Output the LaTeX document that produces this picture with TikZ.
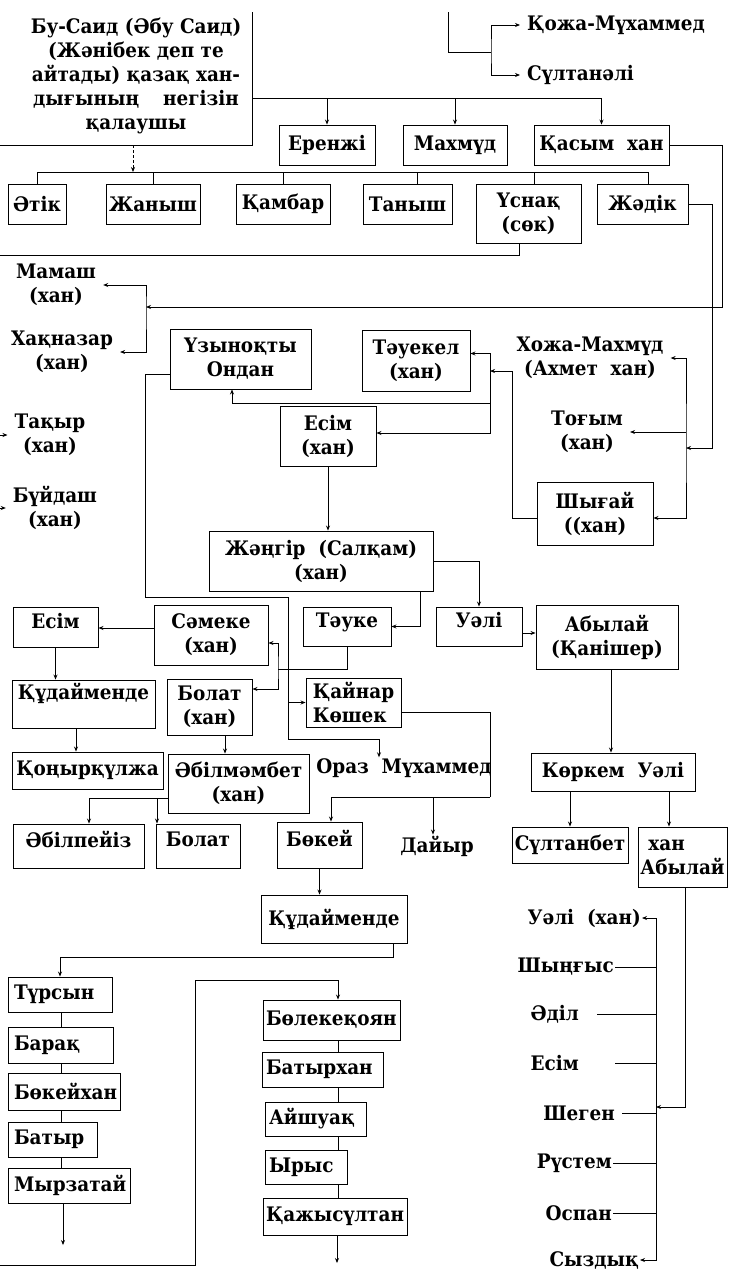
\documentclass[tikz,border=0pt]{standalone}
\usepackage{fontspec}
\setmainfont{DejaVu Serif}[FakeStretch=0.92]
\usetikzlibrary{arrows.meta}

\tikzset{
  txt/.style={font=\fontsize{20}{24}\selectfont\bfseries},
  box/.style={draw, line width=0.9pt, inner sep=2pt, align=center, txt},
  lbox/.style={box, align=left, inner xsep=6pt},
  high/.style={text depth=13pt},
  lbl/.style={inner sep=1pt, align=center, txt},
  tag/.style={lbl, inner xsep=7pt},
  link/.style={line width=0.8pt},
  >={Stealth[length=5pt,width=4pt]}
}

\begin{document}
\begin{tikzpicture}[x=1pt,y=-1pt]
\useasboundingbox (0,0) rectangle (729,1275);

% founder and the first generation
\node[lbl] (busaid) at (136,76) {Бу-Саид (Әбу Саид)\\(Жәнібек деп те\\айтады) қазақ хан-\\дығының\hspace{1.2em}негізін\\қалаушы};
\coordinate (bsl) at (0,145);
\coordinate (bsr) at (252,145);
\coordinate (bsc) at (252,12);
\draw[link] (bsl) -- (bsr) -- (bsc);

\node[tag,anchor=west] (kozha) at (520,25) {Қожа-Мүхаммед};
\node[tag,anchor=west] (sultanali) at (520,75) {Сүлтанәлі};
\coordinate (topin) at (448,12);
\coordinate (tv1) at (491,52);
\draw[link] (topin) |- (tv1);
\draw[link,<->] (kozha.west) -| (tv1) |- (sultanali.west);

\node[box, minimum width=96, minimum height=40] (erenzhi) at (327,145) {Еренжі};
\node[box, minimum width=104, minimum height=40] (makhmud) at (455,145) {Махмүд};
\node[box, minimum width=135, minimum height=40] (kasym) at (601.5,145) {Қасым~~хан};
\coordinate (r1) at (252,98);
\draw[link,->] (r1) -| (kasym.north);
\draw[link,->] (erenzhi.north |- r1) -- (erenzhi.north);
\draw[link,->] (makhmud.north |- r1) -- (makhmud.north);

% second row
\node[box, minimum width=58, minimum height=40] (atik) at (37,204) {Әтік};
\node[box, minimum width=94, minimum height=40] (zhanysh) at (153,204) {Жаныш};
\node[box, minimum width=94, minimum height=40] (kambar) at (283,204) {Қамбар};
\node[box, minimum width=89, minimum height=40] (tanysh) at (407.5,204) {Таныш};
\node[box, minimum width=105, minimum height=59] (usnak) at (528.5,213.5) {Үснақ\\(сөк)};
\node[box, minimum width=91, minimum height=40] (zhadik) at (642.5,204) {Жәдік};
\coordinate (r2) at (0,172);
\draw[link] (atik.north) |- ([xshift=5.5pt]zhadik.north |- r2) -- ([xshift=5.5pt]zhadik.north);
\draw[link] (zhanysh.north) -- (zhanysh.north |- r2);
\draw[link] (kambar.north) -- (kambar.north |- r2);
\draw[link] ([xshift=10pt]tanysh.north) -- ([xshift=10pt]tanysh.north |- r2);
\draw[link] ([xshift=5.5pt]usnak.north) -- ([xshift=5.5pt]usnak.north |- r2);
\draw[link,->,densely dashed] ([xshift=-3pt]busaid.south |- bsl) -- ([xshift=-3pt]busaid.south |- r2);

% sons of Kasym
\node[tag] (mamash) at (56,285) {Мамаш\\(хан)};
\node[tag] (khaknazar) at (62,352) {Хақназар\\(хан)};
\coordinate (qv) at (146,307);
\draw[link,->] (kasym.east) -- ++(53,0) |- (qv);
\draw[link,<->] (mamash.east) -| (qv) |- (khaknazar.east);

% sons of Usnak
\node[tag] (takyr) at (50,435) {Тақыр\\(хан)};
\node[tag] (buidash) at (55,508) {Бүйдаш\\(хан)};
\coordinate (ul) at (0,255);
\draw[link] ([xshift=-9.5pt]usnak.south) |- (ul);
\draw[link,->] (takyr.west -| ul) -- (takyr.west);
\draw[link,->] (buidash.west -| ul) -- (buidash.west);

% sons of Zhadik
\node[tag] (khozha) at (590,358) {Хожа-Махмүд\\(Ахмет~~хан)};
\node[tag] (togym) at (587,432) {Тоғым\\(хан)};
\node[box, minimum width=116, minimum height=63] (shygai) at (595,513.5) {Шығай\\((хан)};
\coordinate (jv) at (686,448);
\draw[link,->] (zhadik.east) -- ++(24,0) |- (jv);
\draw[link,<->] (khozha.east) -| (jv) |- ([yshift=-4.5pt]shygai.east);
\draw[link,->] (jv |- togym.east) -- (togym.east);

% sons of Shygai
\node[box, minimum width=141, minimum height=60] (uzyn) at (240.5,359) {Үзыноқты\\Ондан};
\node[box, minimum width=108, minimum height=61] (tauekel) at (416,360.5) {Тәуекел\\(хан)};
\node[box, minimum width=96, minimum height=60] (esim) at (328,436) {Есім\\(хан)};
\coordinate (sv) at (490,371);
\coordinate (uv) at (490,403);
\draw[link,->] ([yshift=-4.5pt]shygai.west) -- ++(-24,0) |- (sv);
\draw[link,->] (sv) |- ([yshift=7pt]tauekel.east);
\draw[link,->] (sv) |- ([yshift=3pt]esim.east);
\draw[link,->] (sv) -- (uv) -| ([xshift=-8.5pt]uzyn.south);

% Zhangir and his sons
\node[box, minimum width=224, minimum height=60] (zhangir) at (321,561) {Жәңгір~~(Салқам)\\(хан)};
\node[box, high, minimum width=86, minimum height=39] (uali) at (479,626.5) {Уәлі};
\node[box, minimum width=142, minimum height=64] (abylai) at (607,637) {Абылай\\(Қанішер)};
\node[box, high, minimum width=88, minimum height=39] (tauke) at (347,626.5) {Тәуке};
\draw[link,->] (esim.south) -- (esim.south |- zhangir.north);
\draw[link,->] (zhangir.east) -| (uali.north);
\draw[link,->] ([yshift=-6.5pt]uali.east) -- ([yshift=-6.5pt]uali.east -| abylai.west);
\draw[link,->] ([xshift=99pt]zhangir.south) |- (tauke.east);

% line of Ondan
\node[box, minimum width=95, minimum height=49, align=left] (kainar) at (353.5,702.5) {Қайнар\\Көшек};
\node[tag] (oraz) at (404,768) {Ораз~~Мүхаммед};
\coordinate (ov1) at (145,597);
\coordinate (ov2) at (288,739);
\draw[link,->] ([yshift=-15pt]uzyn.west) -| (ov1) -| (ov2) -| ([xshift=-25pt]oraz.north);
\draw[link,->] (ov2 |- kainar.west) -- (kainar.west);

% sons of Tauke
\node[box, minimum width=114, minimum height=60] (sameke) at (211,635) {Сәмеке\\(хан)};
\node[box, minimum width=85, minimum height=56] (bolat) at (209.5,707) {Болат\\(хан)};
\coordinate (tv) at (278,669);
\draw[link] (tauke.south) |- (tv);
\draw[link,<->] ([yshift=-8pt]sameke.east) -| (tv) |- ([yshift=18pt]bolat.east);

\node[box, high, minimum width=85, minimum height=40] (esimb) at (55.5,627) {Есім};
\node[box, minimum width=143, minimum height=48] (kudaia) at (83.5,704) {Құдайменде\\[-6pt]\strut};
\node[box, minimum width=151, minimum height=37] (konyr) at (87.5,770.5) {Қоңырқүлжа};
\draw[link,->] ([yshift=7pt]sameke.west) -- ([yshift=7pt]sameke.west -| esimb.east);
\draw[link,->] (esimb.south) -- (esimb.south |- kudaia.north);
\draw[link,->] ([xshift=-7.5pt]kudaia.south) -- ([xshift=-7.5pt]kudaia.south |- konyr.north);

\node[box, minimum width=141, minimum height=59] (abil) at (238.5,783.5) {Әбілмәмбет\\(хан)};
\node[box, high, minimum width=131, minimum height=44] (abilp) at (78.5,846) {Әбілпейіз};
\node[box, high, minimum width=84, minimum height=44] (bolatb) at (198,846) {Болат};
\coordinate (av) at (157,798);
\draw[link,->] ([xshift=15.5pt]bolat.south) -- ([xshift=15.5pt]bolat.south |- abil.north);
\draw[link,->] ([yshift=-14.5pt]abil.west) -| ([xshift=10.5pt]abilp.north);
\draw[link,->] (av) -- (av |- bolatb.north);

% sons of Kainar Koshek
\node[box, high, minimum width=85, minimum height=46] (bokei) at (319.5,845) {Бөкей};
\node[tag] (dayir) at (437,846) {Дайыр};
\coordinate (kv) at (490,797);
\draw[link] ([yshift=-9.5pt]kainar.east) -| (kv);
\draw[link,->] (kv) -| ([xshift=11.5pt]bokei.north);
\draw[link,->] ([xshift=-4pt]dayir.north |- kv) -- ([xshift=-4pt]dayir.north);

\node[box, minimum width=146, minimum height=48] (kudaib) at (334,919) {Құдайменде};
\draw[link,->] (bokei.south) -- (bokei.south |- kudaib.north);

% left chain
\node[lbox, text width=92, minimum height=35] (tursyn) at (60,994.5) {Түрсын};
\node[lbox, text width=93, minimum height=36] (barak) at (60.5,1045) {Барақ};
\node[lbox, text width=100, minimum height=37] (bokeikhan) at (64,1091.5) {Бөкейхан};
\node[lbox, text width=77, minimum height=35] (batyr) at (52.5,1139.5) {Батыр};
\node[lbox, text width=110, minimum height=35] (myrzatai) at (69,1185.5) {Мырзатай};
\draw[link,->] ([xshift=59pt]kudaib.south) -- ++(0,14) -| (tursyn.north);
\coordinate (lc) at (61,0);
\coordinate (myrend) at (63,1245);
\draw[link] (lc |- tursyn.south) -- (lc |- barak.north);
\draw[link] (lc |- barak.south) -- (lc |- bokeikhan.north);
\draw[link] (lc |- bokeikhan.south) -- (lc |- batyr.north);
\draw[link] (lc |- batyr.south) -- (lc |- myrzatai.north);
\draw[link,->] (myrend |- myrzatai.south) -- (myrend);

% middle chain
\node[lbox, inner xsep=3pt, text width=131, minimum height=40] (bolek) at (331.5,1020) {Бөлекеқоян};
\node[lbox, inner xsep=4pt, text width=113, minimum height=35] (batyrkhan) at (322.5,1069.5) {Батырхан};
\node[lbox, inner xsep=4pt, text width=93, minimum height=34] (aishuak) at (315.5,1119) {Айшуақ};
\node[lbox, inner xsep=4pt, text width=74, minimum height=34] (yrys) at (306,1167) {Ырыс};
\node[lbox, inner xsep=3pt, text width=138, minimum height=37] (kazhy) at (335,1216.5) {Қажысүлтан};
\coordinate (bl) at (0,1265);
\coordinate (bv) at (195,980);
\coordinate (rc) at (338,0);
\coordinate (kend) at (337,1263);
\draw[link,->] (bl) -| (bv) -| (rc |- bolek.north);
\draw[link] (rc |- bolek.south) -- (rc |- batyrkhan.north);
\draw[link] (rc |- batyrkhan.south) -- (rc |- aishuak.north);
\draw[link] (rc |- aishuak.south) -- (rc |- yrys.north);
\draw[link] (rc |- yrys.south) -- (rc |- kazhy.north);
\draw[link,->] (kend |- kazhy.south) -- (kend);

% line of Abylai
\node[box, minimum width=164, minimum height=38] (korkem) at (613,772) {Көркем~~Уәлі};
\node[box, minimum width=116, minimum height=36] (sultanbet) at (570,845) {Сүлтанбет};
\node[box, minimum width=89, minimum height=60, align=left] (khanab) at (682.5,857) {\hspace*{8pt}хан\\Абылай};
\draw[link,->] ([xshift=4pt]abylai.south) -- ([xshift=4pt]abylai.south |- korkem.north);
\draw[link,->] (sultanbet.north |- korkem.south) -- (sultanbet.north);
\draw[link,->] ([xshift=-13.5pt]khanab.north |- korkem.south) -- ([xshift=-13.5pt]khanab.north);

\node[lbl, anchor=east] (ualikhan) at (642,918) {Уәлі~~(хан)};
\node[lbl, anchor=east] (shyngys) at (615,967) {Шыңғыс};
\node[lbl, anchor=east] (adil) at (580,1014) {Әділ};
\node[lbl, anchor=east] (esimc) at (580,1063) {Есім};
\node[lbl, anchor=east] (shegen) at (616,1113) {Шеген};
\node[lbl, anchor=east] (rustem) at (613,1163) {Рүстем};
\node[lbl, anchor=east] (ospan) at (613,1213) {Оспан};
\node[lbl, anchor=east] (syzdyk) at (640,1260) {Сыздық};
\coordinate (vv) at (656,1107);
\draw[link,->] ([xshift=2.5pt]khanab.south) |- (vv);
\draw[link,<->] (ualikhan.east) -- (ualikhan.east -| vv) -- (syzdyk.east -| vv) -- (syzdyk.east);
\draw[link] (shyngys.east) -- (shyngys.east -| vv);
\draw[link] ([xshift=17pt]adil.east) -- (adil.east -| vv);
\draw[link] ([xshift=35pt]esimc.east) -- (esimc.east -| vv);
\draw[link] ([xshift=6pt]shegen.east) -- (shegen.east -| vv);
\draw[link] (rustem.east) -- (rustem.east -| vv);
\draw[link] (ospan.east) -- (ospan.east -| vv);
\end{tikzpicture}
\end{document}
